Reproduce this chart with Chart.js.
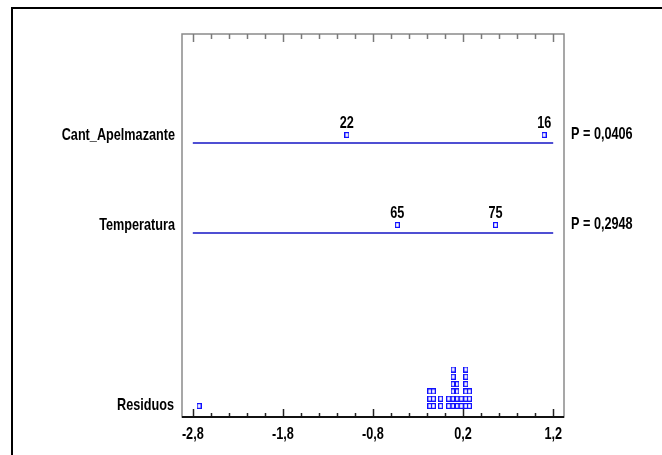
<!DOCTYPE html>
<html>
<head>
<meta charset="utf-8">
<script src="https://cdn.jsdelivr.net/npm/chart.js@4.4.0/dist/chart.umd.min.js"></script>
<style>
  html, body { margin: 0; padding: 0; background: #fff; }
  #wrap { width: 662px; height: 455px; }
</style>
</head>
<body>
<div id="wrap"><canvas id="anovaChart"></canvas></div>
<script>
/* -------------------------------------------------------
   DATA
------------------------------------------------------- */
const factors = ["Cant_Apelmazante", "Temperatura"];
const pValues = ["P = 0,0406", "P = 0,2948"];
const levelLabels = [["22", "16"], ["65", "75"]];
const levelEffects = [[-1.09, 1.10], [-0.53, 0.56]];
const residualLabel = "Residuos";
const residuals = [
  -2.73,
  -0.17, -0.17, -0.17,
  -0.13, -0.13, -0.13,
  -0.05, -0.05,
  0.04, 0.04,
  0.09, 0.09, 0.09, 0.09, 0.09, 0.09,
  0.13, 0.13, 0.13, 0.13,
  0.18, 0.18,
  0.23, 0.23, 0.23, 0.23, 0.23, 0.23,
  0.27, 0.27, 0.27
];
const tickValues = [-2.8, -1.8, -0.8, 0.2, 1.2];
const tickLabels = ["-2,8", "-1,8", "-0,8", "0,2", "1,2"];

/* -------------------------------------------------------
   LAYOUT / STYLE
------------------------------------------------------- */
// no Arial Narrow here: Liberation Sans bold squeezed horizontally
const FONT = "bold 17px 'Liberation Sans', Arial, sans-serif";
const SQUEEZE = 0.745;
const ROW_Y = [274, 184];     // factor rows in y-units (1 unit ~ 1px)
const RESID_Y = 11;
const STACK = 7.3;
const MARK_UP = 8;
const LINE_COLOR = "#1414c4";
const MARK_COLOR = "#1010ff";

function boxMarker(w, h) {
  const c = document.createElement("canvas");
  c.width = w;
  c.height = h;
  const g = c.getContext("2d");
  g.strokeStyle = MARK_COLOR;
  g.lineWidth = 1.2;
  g.strokeRect(0.6, 0.6, w - 1.2, h - 1.2);
  return c;
}
const marker = boxMarker(5, 6);

// stack equal residuals on top of each other
const seen = {};
const residualPoints = residuals.map(v => {
  const k = seen[v] || 0;
  seen[v] = k + 1;
  return { x: v, y: RESID_Y + k * STACK };
});

const datasets = [];
factors.forEach((f, i) => {
  datasets.push({
    type: "line",
    data: [
      { x: tickValues[0], y: ROW_Y[i] },
      { x: tickValues[tickValues.length - 1], y: ROW_Y[i] }
    ],
    borderColor: LINE_COLOR,
    borderWidth: 1.5,
    pointRadius: 0
  });
  datasets.push({
    type: "scatter",
    data: levelEffects[i].map(v => ({ x: v, y: ROW_Y[i] + MARK_UP })),
    pointStyle: marker,
    pointRadius: 3
  });
});
datasets.push({
  type: "scatter",
  data: residualPoints,
  pointStyle: marker,
  pointRadius: 3
});

function narrowText(ctx, text, x, y, align) {
  ctx.save();
  ctx.translate(x, y);
  ctx.scale(SQUEEZE, 1);
  ctx.textAlign = align;
  ctx.fillText(text, 0, 0);
  ctx.restore();
}

/* -------------------------------------------------------
   FRAME, TICK MARKS AND TEXT
------------------------------------------------------- */
const annotate = {
  id: "annotate",
  beforeDatasetsDraw(chart) {
    const { ctx, chartArea: a, scales: { x } } = chart;
    ctx.save();
    // outer black frame (runs off the picture)
    ctx.strokeStyle = "#000";
    ctx.lineWidth = 2;
    ctx.strokeRect(12, 8, 700, 500);

    // plot box
    ctx.strokeStyle = "#8a8a8a";
    ctx.lineWidth = 1.5;
    ctx.strokeRect(a.left, a.top, a.right - a.left, a.bottom - a.top);

    // ticks every 0.2, long at labelled values
    for (let i = 0; i <= 20; i++) {
      const v = tickValues[0] + i * 0.2;
      const px = Math.round(x.getPixelForValue(v)) + 0.5;
      const major = i % 5 === 0;
      ctx.strokeStyle = "#7a7a7a";
      ctx.lineWidth = 1.5;
      ctx.beginPath();
      ctx.moveTo(px, a.top);
      ctx.lineTo(px, a.top + (major ? 8 : 5));
      ctx.stroke();
      ctx.strokeStyle = "#222";
      ctx.beginPath();
      ctx.moveTo(px, a.bottom);
      ctx.lineTo(px, a.bottom - (major ? 8 : 4));
      ctx.stroke();
    }
    // dark bottom axis
    ctx.strokeStyle = "#111";
    ctx.lineWidth = 2;
    ctx.beginPath();
    ctx.moveTo(a.left, a.bottom);
    ctx.lineTo(a.right, a.bottom);
    ctx.stroke();
    ctx.restore();
  },
  afterDatasetsDraw(chart) {
    const { ctx, chartArea: a, scales: { x, y } } = chart;
    ctx.save();
    ctx.fillStyle = "#000";
    ctx.font = FONT;
    ctx.textBaseline = "middle";

    factors.forEach((f, i) => {
      const ly = y.getPixelForValue(ROW_Y[i]);
      narrowText(ctx, f, a.left - 7, ly - 8, "right");
      narrowText(ctx, pValues[i], a.right + 7, ly - 9, "left");
      levelEffects[i].forEach((v, j) => {
        narrowText(ctx, levelLabels[i][j], x.getPixelForValue(v), ly - 20, "center");
      });
    });
    narrowText(ctx, residualLabel, a.left - 8, y.getPixelForValue(RESID_Y) - 1, "right");

    // x tick labels at the axis' own ticks
    x.ticks.forEach((t, i) => {
      narrowText(ctx, tickLabels[i], x.getPixelForTick(i), a.bottom + 17, "center");
    });
    ctx.restore();
  }
};

/* -------------------------------------------------------
   CHART
------------------------------------------------------- */
const ctx = document.getElementById("anovaChart").getContext("2d");

new Chart(ctx, {
  type: "scatter",
  data: { datasets: datasets },
  options: {
    responsive: true,
    maintainAspectRatio: false,
    animation: false,
    layout: { padding: { left: 182, right: 98, top: 34, bottom: 0 } },
    plugins: {
      legend: { display: false },
      tooltip: { enabled: false }
    },
    scales: {
      x: {
        type: "linear",
        min: -2.92,
        max: 1.32,
        grid: { display: false, drawTicks: false },
        border: { display: false },
        afterBuildTicks: s => { s.ticks = tickValues.map(v => ({ value: v })); },
        afterFit: s => { s.height = 38; },
        ticks: { display: false }
      },
      y: {
        type: "linear",
        display: false,
        min: 0,
        max: 383
      }
    }
  },
  plugins: [annotate]
});
</script>
</body>
</html>
